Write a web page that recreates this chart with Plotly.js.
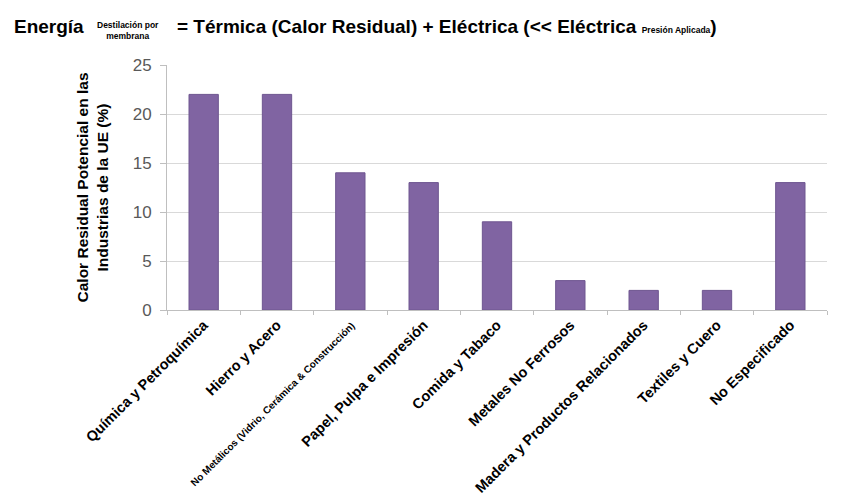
<!DOCTYPE html>
<html>
<head>
<meta charset="utf-8">
<script src="https://cdn.plot.ly/plotly-3.0.1.min.js"></script>
<style>
  html, body { margin: 0; padding: 0; background: #fff; }
  #plot { width: 841px; height: 496px; }
</style>
</head>
<body>
<div id="plot"></div>
<script>
// Sectores industriales (eje x)
var sectores = [
  "Química y Petroquímica",
  "Hierro y Acero",
  "No Metálicos (Vidrio, Cerámica & Construcción)",
  "Papel, Pulpa e Impresión",
  "Comida y Tabaco",
  "Metales No Ferrosos",
  "Madera y Productos Relacionados",
  "Textiles y Cuero",
  "No Especificado"
];

// Calor residual potencial (%)
var calorResidual = [22, 22, 14, 13, 9, 3, 2, 2, 13];

var yTicks = [0, 5, 10, 15, 20, 25];

// the long label is drawn smaller, like in the original
var etiquetas = sectores.map(function (s, i) {
  return i === 2 ? "<span style='font-size:10px'>" + s + "</span>" : s;
});

var sans = "Liberation Sans, Arial, sans-serif";

// plot area in pixels, used to place the title pieces
var L = 167, R = 827, T = 65, B = 310;
function px(x) { return (x - L) / (R - L); }
function py(y) { return (B - y) / (B - T); }

var trace = {
  x: sectores,
  y: calorResidual,
  type: "bar",
  marker: { color: "#8064a2", line: { color: "#6e5690", width: 1 } },
  hoverinfo: "x+y"
};

var layout = {
  width: 841,
  height: 496,
  margin: { l: L, r: 841 - R, t: T, b: 496 - B, autoexpand: false },
  paper_bgcolor: "#ffffff",
  plot_bgcolor: "#ffffff",
  bargap: 0.6,
  showlegend: false,
  xaxis: {
    type: "category",
    tickvals: sectores,
    ticktext: etiquetas,
    tickangle: -45,
    tickfont: { family: sans, size: 14.5, color: "#000000", weight: "bold" },
    ticks: "outside",
    tickson: "boundaries",
    ticklen: 4,
    tickcolor: "#bfbfbf",
    showline: true,
    linecolor: "#bfbfbf",
    showgrid: false,
    automargin: false
  },
  yaxis: {
    range: [0, 25],
    tickvals: yTicks,
    tickfont: { family: sans, size: 17, color: "#595959" },
    ticks: "outside",
    ticklen: 6,
    tickcolor: "#bfbfbf",
    ticklabelstandoff: 5,
    showline: true,
    linecolor: "#bfbfbf",
    gridcolor: "#d9d9d9",
    zeroline: false,
    automargin: false,
    title: {
      text: "Calor Residual Potencial en las<br>Industrias de la UE (%)",
      font: { family: sans, size: 15.5, color: "#000000", weight: "bold" },
      standoff: 20
    }
  },
  annotations: [
    {
      text: "Energía",
      xref: "paper", yref: "paper",
      x: px(12), y: py(27), xanchor: "left", yanchor: "middle",
      showarrow: false,
      font: { family: sans, size: 19, color: "#000000", weight: "bold" }
    },
    {
      text: "Destilación por<br>membrana",
      xref: "paper", yref: "paper",
      x: px(128), y: py(30), xanchor: "center", yanchor: "middle",
      showarrow: false,
      font: { family: sans, size: 8.5, color: "#000000", weight: "bold" }
    },
    {
      text: "= Térmica (Calor Residual) + Eléctrica (<< Eléctrica <span style='font-size:8.5px'>Presión Aplicada</span>)",
      xref: "paper", yref: "paper",
      x: px(175), y: py(27), xanchor: "left", yanchor: "middle",
      showarrow: false,
      font: { family: sans, size: 19, color: "#000000", weight: "bold" }
    }
  ]
};

Plotly.newPlot("plot", [trace], layout, { displayModeBar: false, staticPlot: true });
</script>
</body>
</html>
